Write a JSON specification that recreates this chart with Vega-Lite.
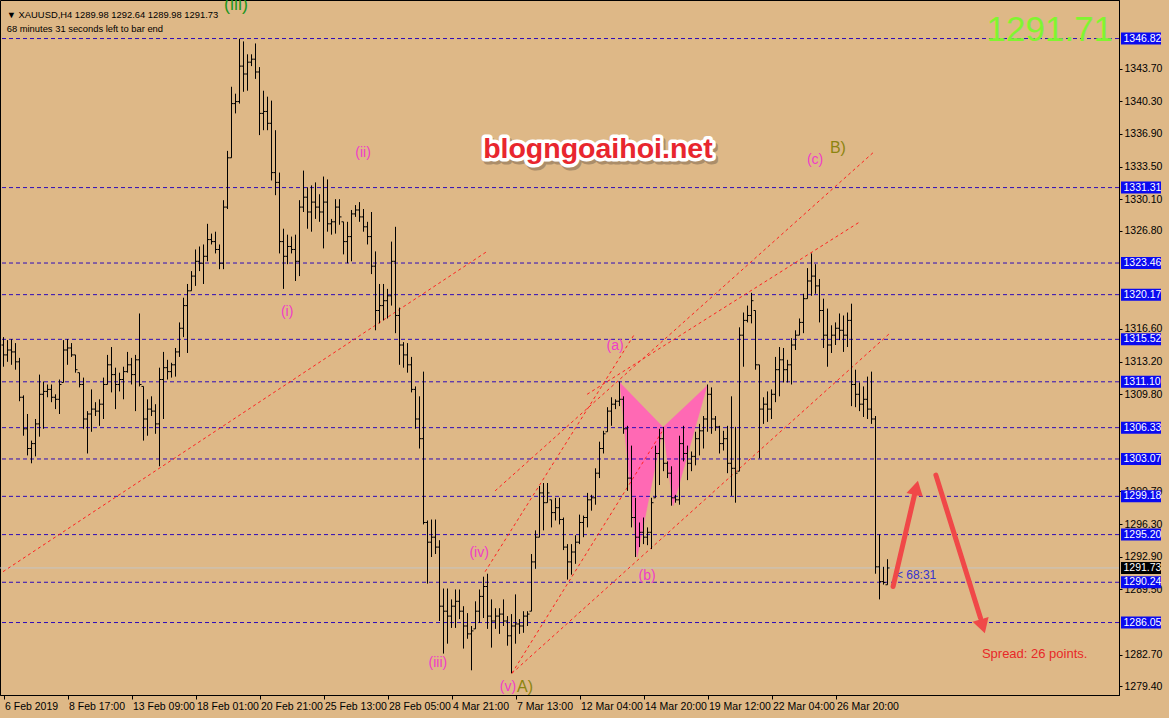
{
"$schema":"https://vega.github.io/schema/vega-lite/v6.json",
"width":1119,"height":695,"autosize":{"type":"none"},
"padding":{"left":0,"top":0,"right":50,"bottom":23},
"background":"#DEB887",
"config":{"view":{"stroke":"#000000","strokeWidth":1,"fill":"#DEB887"},"axis":{"grid":false}},
"datasets":{
"bars":[
{"i":0,"o":1314.93,"h":1315.75,"l":1312.67,"c":1313.90},{"i":1,"o":1313.90,"h":1315.44,"l":1313.18,"c":1314.41},{"i":2,"o":1314.41,"h":1315.54,"l":1312.87,"c":1314.21},{"i":3,"o":1314.21,"h":1315.13,"l":1312.36,"c":1313.18},{"i":4,"o":1313.18,"h":1313.59,"l":1309.08,"c":1309.49},{"i":5,"o":1309.49,"h":1309.69,"l":1305.49,"c":1306.21},{"i":6,"o":1306.21,"h":1307.75,"l":1303.44,"c":1304.16},{"i":7,"o":1304.16,"h":1304.98,"l":1302.62,"c":1304.67},{"i":8,"o":1304.67,"h":1307.23,"l":1303.34,"c":1306.72},{"i":9,"o":1306.72,"h":1311.85,"l":1305.39,"c":1309.80},
{"i":10,"o":1309.80,"h":1311.13,"l":1306.21,"c":1310.10},{"i":11,"o":1310.10,"h":1310.82,"l":1309.49,"c":1310.31},{"i":12,"o":1310.31,"h":1310.82,"l":1308.98,"c":1309.49},{"i":13,"o":1309.49,"h":1309.80,"l":1308.26,"c":1309.28},{"i":14,"o":1309.28,"h":1311.34,"l":1307.75,"c":1310.82},{"i":15,"o":1311.03,"h":1315.44,"l":1311.03,"c":1314.41},{"i":16,"o":1314.41,"h":1315.54,"l":1312.87,"c":1314.62},{"i":17,"o":1314.62,"h":1315.13,"l":1313.69,"c":1313.90},{"i":18,"o":1313.90,"h":1313.90,"l":1312.05,"c":1312.36},{"i":19,"o":1312.05,"h":1312.05,"l":1310.52,"c":1310.82},
{"i":20,"o":1310.82,"h":1311.54,"l":1306.21,"c":1307.23},{"i":21,"o":1307.23,"h":1308.05,"l":1303.64,"c":1307.75},{"i":22,"o":1307.75,"h":1310.31,"l":1305.90,"c":1308.26},{"i":23,"o":1308.26,"h":1308.98,"l":1307.54,"c":1308.05},{"i":24,"o":1308.05,"h":1309.28,"l":1306.52,"c":1308.77},{"i":25,"o":1308.77,"h":1311.54,"l":1307.23,"c":1310.82},{"i":26,"o":1310.82,"h":1313.90,"l":1310.82,"c":1312.87},{"i":27,"o":1312.87,"h":1314.72,"l":1310.00,"c":1311.85},{"i":28,"o":1311.85,"h":1312.57,"l":1308.26,"c":1310.82},{"i":29,"o":1310.82,"h":1312.05,"l":1310.10,"c":1311.34},
{"i":30,"o":1311.34,"h":1312.67,"l":1309.28,"c":1312.16},{"i":31,"o":1312.16,"h":1314.21,"l":1312.05,"c":1312.87},{"i":32,"o":1312.87,"h":1313.59,"l":1310.82,"c":1311.85},{"i":33,"o":1311.85,"h":1313.90,"l":1308.05,"c":1313.39},{"i":34,"o":1313.39,"h":1318.21,"l":1310.62,"c":1310.82},{"i":35,"o":1310.62,"h":1310.62,"l":1304.98,"c":1307.23},{"i":36,"o":1307.23,"h":1309.28,"l":1305.49,"c":1308.26},{"i":37,"o":1308.26,"h":1309.59,"l":1307.54,"c":1308.05},{"i":38,"o":1308.05,"h":1308.77,"l":1305.69,"c":1306.72},{"i":39,"o":1306.72,"h":1312.57,"l":1302.31,"c":1311.34},
{"i":40,"o":1311.34,"h":1314.21,"l":1307.23,"c":1312.57},{"i":41,"o":1312.57,"h":1313.39,"l":1311.34,"c":1312.16},{"i":42,"o":1312.16,"h":1313.08,"l":1311.54,"c":1312.87},{"i":43,"o":1312.87,"h":1314.62,"l":1311.64,"c":1314.21},{"i":44,"o":1314.21,"h":1317.28,"l":1313.69,"c":1316.67},{"i":45,"o":1316.67,"h":1319.85,"l":1315.75,"c":1319.03},{"i":46,"o":1319.03,"h":1321.28,"l":1314.10,"c":1320.57},{"i":47,"o":1320.57,"h":1322.62,"l":1320.57,"c":1322.10},{"i":48,"o":1322.10,"h":1324.87,"l":1321.08,"c":1323.64},{"i":49,"o":1323.64,"h":1325.18,"l":1322.62,"c":1323.44},
{"i":50,"o":1323.44,"h":1325.39,"l":1321.28,"c":1324.16},{"i":51,"o":1324.16,"h":1327.54,"l":1323.64,"c":1325.90},{"i":52,"o":1325.90,"h":1326.52,"l":1325.39,"c":1325.69},{"i":53,"o":1325.69,"h":1326.72,"l":1324.46,"c":1324.87},{"i":54,"o":1324.87,"h":1325.39,"l":1322.82,"c":1323.44},{"i":55,"o":1323.44,"h":1330.00,"l":1322.82,"c":1329.28},{"i":56,"o":1329.28,"h":1335.13,"l":1329.08,"c":1334.41},{"i":57,"o":1334.41,"h":1341.80,"l":1334.41,"c":1340.05},{"i":58,"o":1340.05,"h":1341.08,"l":1339.03,"c":1340.26},{"i":59,"o":1340.26,"h":1346.80,"l":1340.05,"c":1343.95},
{"i":60,"o":1343.95,"h":1346.52,"l":1341.28,"c":1343.13},{"i":61,"o":1343.13,"h":1345.18,"l":1341.39,"c":1344.36},{"i":62,"o":1344.36,"h":1345.18,"l":1343.95,"c":1344.67},{"i":63,"o":1344.67,"h":1346.31,"l":1342.62,"c":1343.34},{"i":64,"o":1343.34,"h":1343.85,"l":1336.77,"c":1339.03},{"i":65,"o":1339.03,"h":1341.39,"l":1337.28,"c":1339.23},{"i":66,"o":1339.23,"h":1340.77,"l":1337.28,"c":1338.00},{"i":67,"o":1338.00,"h":1340.36,"l":1332.05,"c":1332.87},{"i":68,"o":1332.87,"h":1337.28,"l":1330.52,"c":1331.85},{"i":69,"o":1331.85,"h":1332.87,"l":1324.46,"c":1325.69},
{"i":70,"o":1325.69,"h":1327.03,"l":1320.77,"c":1324.16},{"i":71,"o":1324.16,"h":1326.41,"l":1323.34,"c":1325.18},{"i":72,"o":1325.18,"h":1326.21,"l":1324.46,"c":1324.87},{"i":73,"o":1324.87,"h":1326.41,"l":1321.59,"c":1323.64},{"i":74,"o":1323.64,"h":1330.00,"l":1322.10,"c":1329.28},{"i":75,"o":1329.28,"h":1333.08,"l":1328.77,"c":1330.31},{"i":76,"o":1330.31,"h":1331.34,"l":1327.03,"c":1328.77},{"i":77,"o":1328.77,"h":1331.54,"l":1326.72,"c":1329.80},{"i":78,"o":1329.80,"h":1331.85,"l":1328.05,"c":1329.28},{"i":79,"o":1329.28,"h":1330.62,"l":1327.75,"c":1328.77},
{"i":80,"o":1328.77,"h":1332.46,"l":1324.98,"c":1329.80},{"i":81,"o":1329.80,"h":1332.16,"l":1326.72,"c":1327.54},{"i":82,"o":1327.54,"h":1328.05,"l":1326.41,"c":1327.75},{"i":83,"o":1327.75,"h":1330.10,"l":1326.52,"c":1329.28},{"i":84,"o":1329.28,"h":1330.10,"l":1327.44,"c":1328.26},{"i":85,"o":1327.75,"h":1327.75,"l":1324.36,"c":1325.69},{"i":86,"o":1325.69,"h":1327.75,"l":1323.44,"c":1326.21},{"i":87,"o":1326.21,"h":1328.98,"l":1323.64,"c":1328.57},{"i":88,"o":1328.57,"h":1329.49,"l":1328.26,"c":1328.98},{"i":89,"o":1328.98,"h":1329.80,"l":1327.75,"c":1328.26},
{"i":90,"o":1328.26,"h":1329.08,"l":1326.72,"c":1327.23},{"i":91,"o":1327.23,"h":1327.75,"l":1325.39,"c":1326.21},{"i":92,"o":1326.21,"h":1328.77,"l":1322.31,"c":1323.13},{"i":93,"o":1323.13,"h":1324.67,"l":1316.46,"c":1318.52},{"i":94,"o":1318.52,"h":1321.28,"l":1317.18,"c":1319.03},{"i":95,"o":1319.03,"h":1321.28,"l":1317.49,"c":1319.54},{"i":96,"o":1319.54,"h":1320.77,"l":1317.69,"c":1320.05},{"i":97,"o":1320.05,"h":1325.69,"l":1319.03,"c":1323.64},{"i":98,"o":1323.64,"h":1327.23,"l":1316.16,"c":1318.00},{"i":99,"o":1318.00,"h":1318.82,"l":1312.87,"c":1314.93},
{"i":100,"o":1314.93,"h":1315.23,"l":1312.57,"c":1313.90},{"i":101,"o":1313.90,"h":1315.13,"l":1312.05,"c":1312.87},{"i":102,"o":1312.87,"h":1313.69,"l":1310.00,"c":1310.31},{"i":103,"o":1310.31,"h":1310.62,"l":1306.21,"c":1307.23},{"i":104,"o":1307.23,"h":1309.59,"l":1304.16,"c":1305.18},{"i":105,"o":1305.18,"h":1312.16,"l":1296.26,"c":1296.46},{"i":106,"o":1296.46,"h":1296.67,"l":1290.10,"c":1294.41},{"i":107,"o":1294.41,"h":1296.77,"l":1292.87,"c":1294.93},{"i":108,"o":1294.93,"h":1296.77,"l":1293.18,"c":1293.90},{"i":109,"o":1293.90,"h":1294.62,"l":1286.21,"c":1287.75},
{"i":110,"o":1287.75,"h":1289.59,"l":1282.82,"c":1287.23},{"i":111,"o":1287.23,"h":1289.59,"l":1283.85,"c":1286.72},{"i":112,"o":1286.72,"h":1288.46,"l":1285.49,"c":1287.75},{"i":113,"o":1287.75,"h":1289.49,"l":1285.49,"c":1288.26},{"i":114,"o":1288.26,"h":1289.49,"l":1286.41,"c":1287.23},{"i":115,"o":1287.23,"h":1287.75,"l":1283.34,"c":1285.69},{"i":116,"o":1285.69,"h":1287.03,"l":1284.36,"c":1284.87},{"i":117,"o":1284.87,"h":1285.69,"l":1281.08,"c":1285.18},{"i":118,"o":1285.39,"h":1288.26,"l":1285.39,"c":1287.23},{"i":119,"o":1287.23,"h":1289.49,"l":1286.00,"c":1288.77},
{"i":120,"o":1288.77,"h":1290.82,"l":1286.52,"c":1289.80},{"i":121,"o":1289.80,"h":1291.13,"l":1285.39,"c":1286.72},{"i":122,"o":1286.72,"h":1288.46,"l":1283.44,"c":1286.21},{"i":123,"o":1286.21,"h":1287.54,"l":1285.39,"c":1286.72},{"i":124,"o":1286.72,"h":1287.54,"l":1284.87,"c":1286.93},{"i":125,"o":1286.93,"h":1288.46,"l":1285.69,"c":1286.21},{"i":126,"o":1286.21,"h":1286.72,"l":1283.64,"c":1284.67},{"i":127,"o":1284.67,"h":1286.93,"l":1280.77,"c":1285.69},{"i":128,"o":1285.69,"h":1288.98,"l":1283.85,"c":1285.90},{"i":129,"o":1285.90,"h":1286.41,"l":1284.87,"c":1285.69},
{"i":130,"o":1285.69,"h":1287.23,"l":1284.98,"c":1286.72},{"i":131,"o":1286.72,"h":1287.23,"l":1285.69,"c":1286.93},{"i":132,"o":1287.23,"h":1293.18,"l":1287.23,"c":1292.36},{"i":133,"o":1292.36,"h":1295.64,"l":1291.64,"c":1294.93},{"i":134,"o":1294.93,"h":1300.26,"l":1294.93,"c":1299.54},{"i":135,"o":1299.54,"h":1300.57,"l":1295.64,"c":1298.52},{"i":136,"o":1298.52,"h":1300.57,"l":1298.52,"c":1299.54},{"i":137,"o":1298.82,"h":1298.82,"l":1295.95,"c":1297.49},{"i":138,"o":1297.49,"h":1299.03,"l":1296.67,"c":1298.00},{"i":139,"o":1298.00,"h":1299.03,"l":1296.26,"c":1296.77},
{"i":140,"o":1296.77,"h":1296.98,"l":1293.59,"c":1293.90},{"i":141,"o":1293.90,"h":1294.21,"l":1290.52,"c":1292.36},{"i":142,"o":1292.36,"h":1294.21,"l":1291.03,"c":1293.39},{"i":143,"o":1293.39,"h":1295.13,"l":1292.16,"c":1294.41},{"i":144,"o":1294.41,"h":1297.28,"l":1294.21,"c":1296.46},{"i":145,"o":1296.46,"h":1297.18,"l":1294.93,"c":1296.98},{"i":146,"o":1296.98,"h":1299.54,"l":1295.95,"c":1298.82},{"i":147,"o":1298.82,"h":1299.34,"l":1297.69,"c":1299.03},{"i":148,"o":1299.03,"h":1302.10,"l":1298.31,"c":1301.59},{"i":149,"o":1301.59,"h":1304.87,"l":1301.08,"c":1304.16},
{"i":150,"o":1304.16,"h":1306.00,"l":1303.64,"c":1305.69},{"i":151,"o":1305.90,"h":1308.46,"l":1305.90,"c":1308.05},{"i":152,"o":1308.05,"h":1309.49,"l":1306.52,"c":1308.77},{"i":153,"o":1308.77,"h":1309.28,"l":1308.26,"c":1309.08},{"i":154,"o":1309.08,"h":1311.13,"l":1308.57,"c":1309.28},{"i":155,"o":1309.28,"h":1309.59,"l":1305.69,"c":1306.21},{"i":156,"o":1306.21,"h":1306.52,"l":1299.75,"c":1301.08},{"i":157,"o":1301.08,"h":1304.46,"l":1295.95,"c":1296.98},{"i":158,"o":1296.98,"h":1299.03,"l":1292.87,"c":1294.93},{"i":159,"o":1294.93,"h":1296.46,"l":1293.90,"c":1295.44},
{"i":160,"o":1295.44,"h":1296.98,"l":1294.21,"c":1294.93},{"i":161,"o":1294.93,"h":1295.95,"l":1294.10,"c":1295.44},{"i":162,"o":1295.44,"h":1299.03,"l":1293.69,"c":1298.52},{"i":163,"o":1299.03,"h":1304.46,"l":1299.03,"c":1303.64},{"i":164,"o":1303.64,"h":1306.21,"l":1300.36,"c":1305.18},{"i":165,"o":1305.18,"h":1306.41,"l":1301.80,"c":1302.62},{"i":166,"o":1302.62,"h":1302.82,"l":1301.08,"c":1301.59},{"i":167,"o":1301.59,"h":1302.31,"l":1298.21,"c":1299.03},{"i":168,"o":1299.03,"h":1299.34,"l":1298.52,"c":1298.82},{"i":169,"o":1298.82,"h":1305.49,"l":1298.31,"c":1304.67},
{"i":170,"o":1304.67,"h":1306.52,"l":1302.82,"c":1303.64},{"i":171,"o":1303.64,"h":1304.46,"l":1300.87,"c":1302.62},{"i":172,"o":1302.62,"h":1303.85,"l":1301.80,"c":1303.34},{"i":173,"o":1303.34,"h":1305.90,"l":1302.41,"c":1305.18},{"i":174,"o":1305.18,"h":1306.72,"l":1303.44,"c":1306.00},{"i":175,"o":1306.00,"h":1307.54,"l":1304.16,"c":1307.23},{"i":176,"o":1307.23,"h":1310.82,"l":1305.90,"c":1309.80},{"i":177,"o":1309.80,"h":1310.52,"l":1305.69,"c":1307.23},{"i":178,"o":1307.23,"h":1307.54,"l":1306.00,"c":1306.41},{"i":179,"o":1306.41,"h":1306.52,"l":1303.64,"c":1304.67},
{"i":180,"o":1304.67,"h":1306.00,"l":1303.95,"c":1305.18},{"i":181,"o":1305.18,"h":1306.52,"l":1301.59,"c":1302.62},{"i":182,"o":1302.62,"h":1309.59,"l":1299.23,"c":1302.10},{"i":183,"o":1302.10,"h":1306.41,"l":1298.52,"c":1301.59},{"i":184,"o":1301.80,"h":1316.77,"l":1301.80,"c":1315.95},{"i":185,"o":1315.95,"h":1318.31,"l":1312.67,"c":1317.49},{"i":186,"o":1317.49,"h":1319.03,"l":1317.28,"c":1318.00},{"i":187,"o":1318.00,"h":1320.36,"l":1317.18,"c":1319.54},{"i":188,"o":1318.52,"h":1318.52,"l":1312.36,"c":1312.87},{"i":189,"o":1312.87,"h":1312.87,"l":1303.13,"c":1308.26},
{"i":190,"o":1308.26,"h":1309.49,"l":1306.72,"c":1308.77},{"i":191,"o":1308.77,"h":1310.10,"l":1306.93,"c":1308.26},{"i":192,"o":1308.26,"h":1310.31,"l":1307.23,"c":1309.80},{"i":193,"o":1309.80,"h":1313.69,"l":1308.98,"c":1312.36},{"i":194,"o":1312.36,"h":1314.72,"l":1309.59,"c":1313.39},{"i":195,"o":1313.39,"h":1314.62,"l":1311.03,"c":1312.36},{"i":196,"o":1312.36,"h":1313.39,"l":1311.03,"c":1312.87},{"i":197,"o":1312.87,"h":1315.64,"l":1310.82,"c":1314.93},{"i":198,"o":1314.93,"h":1316.46,"l":1314.41,"c":1315.95},{"i":199,"o":1315.95,"h":1317.69,"l":1315.95,"c":1317.28},
{"i":200,"o":1317.28,"h":1320.26,"l":1316.16,"c":1319.75},{"i":201,"o":1319.75,"h":1322.93,"l":1319.75,"c":1321.59},{"i":202,"o":1321.59,"h":1324.46,"l":1320.05,"c":1322.10},{"i":203,"o":1322.10,"h":1323.34,"l":1320.26,"c":1321.08},{"i":204,"o":1321.08,"h":1321.80,"l":1317.28,"c":1318.52},{"i":205,"o":1318.52,"h":1319.75,"l":1314.62,"c":1315.95},{"i":206,"o":1315.95,"h":1318.72,"l":1312.67,"c":1314.93},{"i":207,"o":1314.93,"h":1316.98,"l":1314.10,"c":1315.95},{"i":208,"o":1315.95,"h":1317.28,"l":1314.93,"c":1316.67},{"i":209,"o":1316.67,"h":1318.21,"l":1315.44,"c":1316.46},
{"i":210,"o":1316.46,"h":1318.00,"l":1314.21,"c":1315.95},{"i":211,"o":1315.95,"h":1318.31,"l":1314.72,"c":1317.49},{"i":212,"o":1317.49,"h":1319.23,"l":1308.57,"c":1310.82},{"i":213,"o":1310.82,"h":1312.36,"l":1308.46,"c":1309.80},{"i":214,"o":1309.80,"h":1311.03,"l":1308.05,"c":1308.77},{"i":215,"o":1308.77,"h":1310.62,"l":1307.44,"c":1309.28},{"i":216,"o":1309.28,"h":1311.64,"l":1307.23,"c":1308.26},{"i":217,"o":1308.26,"h":1312.16,"l":1306.72,"c":1307.23},{"i":218,"o":1307.23,"h":1307.54,"l":1291.13,"c":1291.85},{"i":219,"o":1291.85,"h":1295.23,"l":1288.46,"c":1290.31},
{"i":220,"o":1290.31,"h":1291.85,"l":1290.00,"c":1290.21},{"i":221,"o":1289.98,"h":1292.64,"l":1289.98,"c":1291.73}
],
"levels":[{"p":1346.82},{"p":1331.31},{"p":1323.46},{"p":1320.17},{"p":1315.52},{"p":1311.10},{"p":1306.33},{"p":1303.07},{"p":1299.18},{"p":1295.20},{"p":1290.24},{"p":1286.05}],
"trend":[
{"id":"L1","i":-0.125,"p":1291.34},{"id":"L1","i":120.9,"p":1324.67},
{"id":"L2","i":120.4,"p":1291.34},{"id":"L2","i":157.9,"p":1316.16},
{"id":"al","i":122.9,"p":1299.75},{"id":"al","i":217.9,"p":1335.13},
{"id":"be","i":145.9,"p":1309.80},{"id":"be","i":214.1,"p":1327.75},
{"id":"ga","i":127.1,"p":1280.77},{"id":"ga","i":221.6,"p":1316.16},
{"id":"de","i":127.1,"p":1280.77},{"id":"de","i":164.6,"p":1305.90}
],
"fly":[
{"t":1,"k":1,"i":154.1,"p":1311.03},{"t":1,"k":2,"i":158.4,"p":1292.87},{"t":1,"k":3,"i":164.9,"p":1306.41},
{"t":2,"k":1,"i":164.9,"p":1306.41},{"t":2,"k":2,"i":167.4,"p":1298.21},{"t":2,"k":3,"i":175.9,"p":1310.72}
]
},
"layer":[
{"data":{"name":"fly"},
 "mark":{"type":"line","fill":"#FF69B4","stroke":"#FF69B4","strokeWidth":0.5,"clip":true},
 "encoding":{
  "x":{"field":"i","type":"quantitative","scale":{"domain":[-0.875,278.875],"nice":false,"zero":false},
   "axis":{"title":null,"values":[0,16,32,48,64,80,96,112,128,144,160,176,192,208],
    "labelExpr":"['6 Feb 2019','8 Feb 17:00','13 Feb 09:00','18 Feb 01:00','20 Feb 21:00','25 Feb 13:00','28 Feb 05:00','4 Mar 21:00','7 Mar 13:00','12 Mar 04:00','14 Mar 20:00','19 Mar 12:00','22 Mar 04:00','26 Mar 20:00'][round(datum.value/16)]",
    "labelAlign":"left","labelBaseline":"top","labelPadding":2,"labelOffset":1,"tickSize":4,"tickColor":"#000000","domainColor":"#000000","labelColor":"#000000","labelFont":"Liberation Sans","labelFontSize":10.5,"labelOverlap":false,"labelFlush":false,"labelBound":false,"grid":false}},
  "y":{"field":"p","type":"quantitative","scale":{"domain":[1279.03,1350.31],"nice":false,"zero":false},
   "axis":{"title":null,"orient":"right","values":[1279.4,1282.7,1289.5,1292.9,1296.3,1299.7,1309.8,1313.2,1316.6,1326.8,1330.1,1333.5,1336.9,1340.3,1343.7],
    "format":".2f","tickSize":3,"labelPadding":2,"tickColor":"#000000","domainColor":"#000000","labelColor":"#000000","labelFont":"Liberation Sans","labelFontSize":10.5,"labelOverlap":false,"labelFlush":false,"labelBound":false,"grid":false}},
  "detail":{"field":"t"},
  "order":{"field":"k"}}},
{"data":{"name":"levels"},"mark":{"type":"rule","color":"#2E0BB8","strokeDash":[4,3],"strokeWidth":1},
 "encoding":{"y":{"field":"p","type":"quantitative"}}},
{"data":{"values":[{"p":1291.73}]},"mark":{"type":"rule","color":"#C4C4C4","strokeWidth":1},
 "encoding":{"y":{"field":"p","type":"quantitative"}}},
{"data":{"name":"trend"},"mark":{"type":"line","color":"#FF2020","strokeDash":[3,3],"strokeWidth":1,"clip":true},
 "encoding":{"x":{"field":"i","type":"quantitative"},"y":{"field":"p","type":"quantitative"},"detail":{"field":"id"}}},
{"data":{"name":"bars"},"mark":{"type":"rule","color":"#000000","strokeWidth":1},
 "encoding":{"x":{"field":"i","type":"quantitative"},"y":{"field":"h","type":"quantitative"},"y2":{"field":"l"}}},
{"data":{"name":"bars"},"mark":{"type":"rule","color":"#000000","strokeWidth":1,"xOffset":-2,"x2Offset":0},
 "encoding":{"x":{"field":"i","type":"quantitative"},"x2":{"field":"i"},"y":{"field":"o","type":"quantitative"}}},
{"data":{"name":"bars"},"mark":{"type":"rule","color":"#000000","strokeWidth":1,"xOffset":0,"x2Offset":2},
 "encoding":{"x":{"field":"i","type":"quantitative"},"x2":{"field":"i"},"y":{"field":"c","type":"quantitative"}}},
{"data":{"values":[{"t":"(ii)","i":89.9,"p":1334.93},{"t":"(i)","i":70.9,"p":1318.41},{"t":"(iii)","i":108.6,"p":1281.8},{"t":"(iv)","i":118.9,"p":1293.28},{"t":"(v)","i":126.1,"p":1279.34},{"t":"(a)","i":152.9,"p":1314.82},{"t":"(b)","i":160.9,"p":1290.93},{"t":"(c)","i":202.9,"p":1334.21}]},
 "mark":{"type":"text","color":"#F03CC8","font":"Liberation Sans","fontSize":14,"baseline":"middle","align":"center","clip":true},
 "encoding":{"x":{"field":"i","type":"quantitative"},"y":{"field":"p","type":"quantitative"},"text":{"field":"t"}}},
{"data":{"values":[{"t":"A)","i":130.4,"p":1279.34},{"t":"B)","i":208.6,"p":1335.44}]},
 "mark":{"type":"text","color":"#8C8410","font":"Liberation Sans","fontSize":16,"baseline":"middle","align":"center","clip":true},
 "encoding":{"x":{"field":"i","type":"quantitative"},"y":{"field":"p","type":"quantitative"},"text":{"field":"t"}}},
{"data":{"values":[{"t":"(iii)","i":58.1,"p":1349.8}]},
 "mark":{"type":"text","color":"#1E961E","font":"Liberation Sans","fontSize":18,"baseline":"alphabetic","align":"center","clip":true},
 "encoding":{"x":{"field":"i","type":"quantitative"},"y":{"field":"p","type":"quantitative"},"text":{"field":"t"}}},
{"data":{"values":[{"t":"blogngoaihoi.net","i":148.6,"p":1335.34}]},
 "mark":{"type":"text","color":"#6E5A46","opacity":0.45,"stroke":"#6E5A46","strokeWidth":7,"strokeJoin":"round","font":"Liberation Sans","fontWeight":"bold","fontSize":28.5,"baseline":"middle","align":"center","dx":2,"dy":3},
 "encoding":{"x":{"field":"i","type":"quantitative"},"y":{"field":"p","type":"quantitative"},"text":{"field":"t"}}},
{"data":{"values":[{"t":"blogngoaihoi.net","i":148.6,"p":1335.34}]},
 "mark":{"type":"text","color":"#FFFFFF","stroke":"#FFFFFF","strokeWidth":7,"strokeJoin":"round","font":"Liberation Sans","fontWeight":"bold","fontSize":28.5,"baseline":"middle","align":"center"},
 "encoding":{"x":{"field":"i","type":"quantitative"},"y":{"field":"p","type":"quantitative"},"text":{"field":"t"}}},
{"data":{"values":[{"t":"blogngoaihoi.net","i":148.6,"p":1335.34}]},
 "mark":{"type":"text","color":"#E8262E","font":"Liberation Sans","fontWeight":"bold","fontSize":28.5,"baseline":"middle","align":"center"},
 "encoding":{"x":{"field":"i","type":"quantitative"},"y":{"field":"p","type":"quantitative"},"text":{"field":"t"}}},
{"data":{"values":[{"t":"1291.71","i":277.4,"p":1347.75}]},
 "mark":{"type":"text","color":"#80F530","font":"Liberation Sans","fontSize":35,"baseline":"middle","align":"right"},
 "encoding":{"x":{"field":"i","type":"quantitative"},"y":{"field":"p","type":"quantitative"},"text":{"field":"t"}}},
{"data":{"values":[{"t":"▼ XAUUSD,H4  1289.98 1292.64 1289.98 1291.73","i":0.8,"p":1349.28},{"t":"68 minutes 31 seconds left to bar end","i":0.8,"p":1347.85}]},
 "mark":{"type":"text","color":"#000000","font":"Liberation Sans","fontSize":9.4,"baseline":"middle","align":"left"},
 "encoding":{"x":{"field":"i","type":"quantitative"},"y":{"field":"p","type":"quantitative"},"text":{"field":"t"}}},
{"data":{"values":[{"t":"< 68:31","i":223.1,"p":1291.03}]},
 "mark":{"type":"text","color":"#3434D0","font":"Liberation Sans","fontSize":12,"baseline":"middle","align":"left"},
 "encoding":{"x":{"field":"i","type":"quantitative"},"y":{"field":"p","type":"quantitative"},"text":{"field":"t"}}},
{"data":{"values":[{"t":"Spread: 26 points.","i":244.6,"p":1282.82}]},
 "mark":{"type":"text","color":"#E82828","font":"Liberation Sans","fontSize":13,"baseline":"middle","align":"left"},
 "encoding":{"x":{"field":"i","type":"quantitative"},"y":{"field":"p","type":"quantitative"},"text":{"field":"t"}}},
{"data":{"values":[{"i":222.4,"p":1289.8,"i2":227.75,"p2":1299.34},{"i":233.1,"p":1301.39,"i2":244.25,"p2":1286.52}]},
 "mark":{"type":"rule","color":"#F04848","strokeWidth":5,"strokeCap":"round"},
 "encoding":{"x":{"field":"i","type":"quantitative"},"y":{"field":"p","type":"quantitative"},"x2":{"field":"i2"},"y2":{"field":"p2"}}},
{"data":{"values":[{"i":228.2,"p":1300.07,"a":13},{"i":244.8,"p":1285.66,"a":163}]},
 "mark":{"type":"point","shape":"triangle-up","filled":true,"color":"#F04848","opacity":1,"size":280},
 "encoding":{"x":{"field":"i","type":"quantitative"},"y":{"field":"p","type":"quantitative"},"angle":{"field":"a","type":"quantitative","scale":null}}},
{"data":{"name":"levels"},
 "mark":{"type":"bar","orient":"horizontal","height":12,"color":"#0A0AF0"},
 "encoding":{"x":{"datum":279.375,"type":"quantitative"},"x2":{"datum":289.375},"y":{"field":"p","type":"quantitative"}}},
{"data":{"name":"levels"},
 "mark":{"type":"text","color":"#FFFFFF","font":"Liberation Sans","fontSize":10.5,"baseline":"middle","align":"left"},
 "encoding":{"x":{"datum":280.0,"type":"quantitative"},"y":{"field":"p","type":"quantitative"},"text":{"field":"p","type":"quantitative","format":".2f"}}},
{"data":{"values":[{"p":1291.73}]},
 "mark":{"type":"bar","orient":"horizontal","height":12,"color":"#000000"},
 "encoding":{"x":{"datum":279.375,"type":"quantitative"},"x2":{"datum":289.375},"y":{"field":"p","type":"quantitative"}}},
{"data":{"values":[{"p":1291.73}]},
 "mark":{"type":"text","color":"#FFFFFF","font":"Liberation Sans","fontSize":10.5,"baseline":"middle","align":"left"},
 "encoding":{"x":{"datum":280.0,"type":"quantitative"},"y":{"field":"p","type":"quantitative"},"text":{"field":"p","type":"quantitative","format":".2f"}}}
]
}
